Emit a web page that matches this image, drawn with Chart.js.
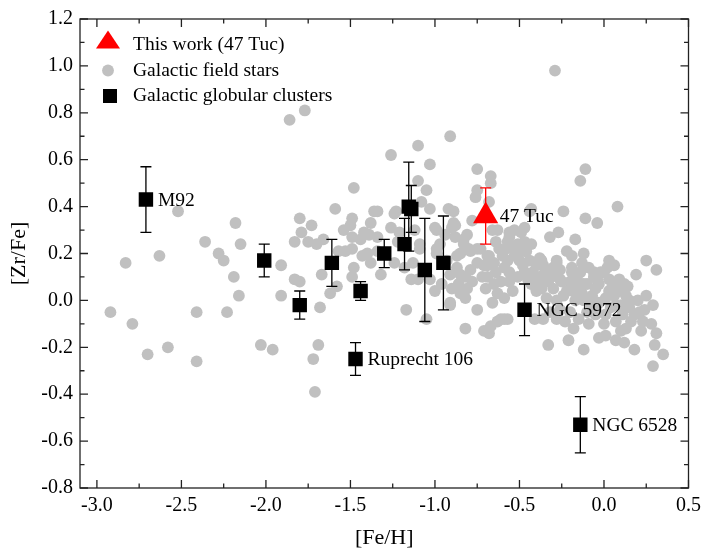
<!DOCTYPE html>
<html>
<head>
<meta charset="utf-8">
<script src="https://cdn.jsdelivr.net/npm/chart.js@4.4.1/dist/chart.umd.min.js"></script>
<style>
  html, body { margin: 0; padding: 0; background: #fff; }
  #wrap { width: 707px; height: 551px; }
</style>
</head>
<body>
<div id="wrap"><canvas id="chart1" width="707" height="551"></canvas></div>
<script>
// axis ticks
var xTicks = [-3.0, -2.5, -2.0, -1.5, -1.0, -0.5, 0.0, 0.5];
var xMinor = [-2.75, -2.25, -1.75, -1.25, -0.75, -0.25, 0.25];
var yTicks = [-0.8, -0.6, -0.4, -0.2, 0.0, 0.2, 0.4, 0.6, 0.8, 1.0, 1.2];
var yMinor = [-0.7, -0.5, -0.3, -0.1, 0.1, 0.3, 0.5, 0.7, 0.9, 1.1];

// Galactic field stars
var fieldFeH = [
  -2.92, -2.83, -2.79, -2.70, -2.63, -2.58, -2.52, -2.41, -2.41, -2.36, -2.28, -2.25,
  -2.23, -2.19, -2.18, -2.16, -2.15, -2.03, -1.96, -1.91, -1.91, -1.86, -1.83, -1.83,
  -1.80, -1.80, -1.79, -1.77, -1.75, -1.73, -1.72, -1.71, -1.70, -1.69, -1.68, -1.67,
  -1.66, -1.62, -1.59, -1.58, -1.57, -1.54, -1.53, -1.50, -1.49, -1.49, -1.49, -1.49,
  -1.48, -1.48, -1.44, -1.43, -1.42, -1.40, -1.39, -1.38, -1.38, -1.36, -1.34, -1.34,
  -1.34, -1.32, -1.26, -1.26, -1.24, -1.24, -1.23, -1.22, -1.21, -1.18, -1.17, -1.14,
  -1.13, -1.12, -1.10, -1.10, -1.10, -1.09, -1.09, -1.08, -1.05, -1.05, -1.03, -1.03,
  -1.03, -1.00, -1.00, -0.99, -0.99, -0.99, -0.97, -0.96, -0.92, -0.91, -0.91, -0.91,
  -0.90, -0.90, -0.89, -0.89, -0.88, -0.88, -0.87, -0.87, -0.85, -0.85, -0.85, -0.83,
  -0.83, -0.82, -0.82, -0.82, -0.81, -0.81, -0.80, -0.79, -0.78, -0.76, -0.75, -0.75,
  -0.75, -0.75, -0.75, -0.73, -0.71, -0.71, -0.70, -0.69, -0.69, -0.69, -0.68, -0.68,
  -0.68, -0.67, -0.67, -0.67, -0.66, -0.66, -0.66, -0.65, -0.65, -0.64, -0.64, -0.63,
  -0.63, -0.63, -0.61, -0.60, -0.59, -0.59, -0.59, -0.57, -0.57, -0.57, -0.56, -0.56,
  -0.56, -0.56, -0.54, -0.53, -0.53, -0.53, -0.51, -0.51, -0.49, -0.47, -0.47, -0.47,
  -0.47, -0.46, -0.46, -0.44, -0.44, -0.43, -0.43, -0.43, -0.42, -0.41, -0.40, -0.40,
  -0.40, -0.39, -0.38, -0.38, -0.37, -0.36, -0.36, -0.34, -0.34, -0.33, -0.33, -0.32,
  -0.32, -0.30, -0.29, -0.28, -0.28, -0.28, -0.28, -0.28, -0.27, -0.26, -0.25, -0.24,
  -0.23, -0.22, -0.22, -0.21, -0.19, -0.19, -0.19, -0.18, -0.17, -0.17, -0.16, -0.16,
  -0.15, -0.14, -0.13, -0.12, -0.12, -0.12, -0.12, -0.11, -0.11, -0.10, -0.09, -0.07,
  -0.06, -0.06, -0.06, -0.05, -0.05, -0.04, -0.03, -0.03, -0.03, -0.02, 0.00, 0.00,
  0.01, 0.01, 0.01, 0.03, 0.03, 0.03, 0.05, 0.06, 0.07, 0.07, 0.07, 0.07,
  0.08, 0.09, 0.11, 0.12, 0.12, 0.13, 0.14, 0.15, 0.15, 0.18, 0.18, 0.19,
  0.21, 0.23, 0.25, 0.25, 0.28, 0.29, 0.29, 0.30, 0.31, 0.31, 0.35, -0.91,
  -0.61, -0.62, -0.58, -0.50, -0.48, -0.45, -0.37, -0.35, -0.31, -0.30, -0.26, -0.24,
  -0.20, -0.18, -0.14, -0.13, -0.09, -0.08, -0.04, 0.02, 0.04, 0.06, 0.09, 0.10,
  0.13, 0.16, 0.20, 0.22, 0.24, 0.10, -0.26, -0.20, -0.10, -0.72, -0.78, -0.86,
  -0.79, -0.93, -0.94
];
var fieldZrFe = [
  -0.05, 0.16, -0.10, -0.23, 0.19, -0.20, 0.38, -0.05, -0.26, 0.25, 0.20, 0.17,
  -0.05, 0.10, 0.33, 0.02, 0.24, -0.19, -0.21, 0.15, 0.02, 0.77, 0.25, 0.09,
  0.08, 0.35, 0.29, 0.81, 0.25, 0.32, -0.25, -0.39, 0.24, -0.19, -0.03, 0.11,
  0.26, 0.03, 0.39, 0.06, 0.21, 0.30, 0.21, 0.32, 0.35, 0.27, 0.22, 0.10,
  0.48, 0.14, 0.26, 0.19, 0.29, 0.20, 0.28, 0.33, 0.16, 0.38, 0.27, 0.21,
  0.38, 0.11, 0.62, 0.31, 0.37, 0.16, 0.38, 0.25, 0.29, 0.14, -0.04, 0.09,
  0.16, 0.30, 0.66, 0.51, 0.09, 0.24, 0.22, 0.42, 0.47, -0.08, 0.58, 0.39,
  0.09, 0.31, 0.04, 0.30, 0.22, 0.20, 0.24, 0.07, 0.39, 0.70, 0.11, -0.01,
  0.31, 0.05, 0.38, 0.33, 0.32, 0.27, 0.19, 0.14, 0.20, 0.11, 0.03, 0.26,
  0.24, 0.10, 0.01, -0.12, 0.28, 0.05, 0.22, 0.21, 0.34, 0.44, 0.56, 0.47,
  0.22, 0.16, -0.04, 0.22, 0.15, -0.13, 0.05, 0.19, 0.15, 0.10, 0.42, 0.19,
  -0.14, 0.53, 0.50, -0.11, 0.30, 0.16, -0.01, 0.16, 0.07, 0.25, 0.12, 0.30,
  0.03, -0.09, 0.08, 0.19, 0.14, 0.01, -0.08, 0.25, 0.17, -0.08, 0.29, 0.27,
  0.12, 0.08, 0.04, 0.30, 0.22, 0.19, 0.24, 0.10, 0.29, 0.31, 0.25, 0.21,
  0.12, 0.24, 0.21, 0.38, 0.17, 0.39, 0.24, 0.07, 0.12, -0.08, 0.15, 0.05,
  0.04, 0.09, 0.18, 0.10, 0.17, 0.15, -0.08, 0.08, 0.01, 0.08, -0.19, 0.27,
  -0.05, 0.05, 0.98, 0.17, 0.16, 0.12, 0.00, -0.08, 0.29, 0.09, 0.08, 0.38,
  -0.09, 0.21, 0.04, -0.17, 0.19, 0.14, 0.12, -0.12, 0.26, 0.00, 0.09, 0.07,
  -0.08, 0.51, 0.16, 0.20, 0.07, 0.00, -0.21, 0.56, 0.35, 0.07, -0.10, 0.02,
  0.12, 0.10, -0.04, 0.05, -0.06, 0.33, 0.07, -0.01, -0.16, 0.12, 0.12, -0.10,
  0.01, -0.06, -0.15, 0.17, 0.09, 0.04, 0.06, 0.15, 0.07, -0.02, -0.09, -0.17,
  0.40, 0.09, -0.06, 0.07, -0.18, -0.12, 0.06, 0.00, -0.03, -0.06, -0.21, 0.11,
  -0.05, -0.09, 0.17, 0.02, -0.10, -0.02, -0.28, -0.19, 0.13, -0.14, -0.23, -0.02,
  -0.08, 0.22, 0.22, 0.17, 0.15, 0.09, 0.05, 0.12, 0.10, 0.14, 0.13, 0.02,
  0.08, 0.04, 0.12, 0.03, 0.14, -0.02, 0.09, 0.14, -0.03, 0.02, 0.04, -0.02,
  0.02, -0.09, 0.00, -0.13, -0.04, -0.13, -0.04, -0.05, -0.05, 0.10, 0.08, 0.07,
  0.13, 0.17, 0.28
];

// Galactic globular clusters
var clusterNames = ['M92', '', '', '', 'Ruprecht 106', '', '', '', '', '', '', '', 'NGC 5972', 'NGC 6528'];
var clusterFeH  = [-2.71, -2.01, -1.80, -1.61, -1.47, -1.44, -1.30, -1.18, -1.155, -1.14, -1.06, -0.95, -0.47, -0.14];
var clusterZrFe = [ 0.43,  0.17, -0.02,  0.16, -0.25,  0.04,  0.20,  0.24,  0.40,   0.39,  0.13,  0.16, -0.04, -0.53];
var clusterErr  = [ 0.14,  0.07,  0.06,  0.10,  0.07,  0.04,  0.06,  0.11,  0.19,   0.10,  0.22,  0.20,  0.11,  0.12];

// This work
var tucName = ['47 Tuc'];
var tucFeH = [-0.70];
var tucZrFe = [0.36];
var tucErr = [0.12];

var serif = 'Liberation Serif, Times New Roman, serif';

function toPoints(xs, ys) {
    var pts = [];
    for (var i = 0; i < xs.length; i++) {
        pts.push({ x: xs[i], y: ys[i] });
    }
    return pts;
}

// frame with inward ticks on all four sides
var frameTicks = {
    id: 'frameTicks',
    afterDatasetsDraw: function(chart) {
        var c = chart.ctx, a = chart.chartArea;
        var sx = chart.scales.x, sy = chart.scales.y;
        c.save();
        c.strokeStyle = '#222';
        c.lineWidth = 1.3;
        c.strokeRect(a.left, a.top, a.right - a.left, a.bottom - a.top);
        c.beginPath();
        function xt(list, len) {
            list.forEach(function(v) {
                var p = sx.getPixelForValue(v);
                c.moveTo(p, a.bottom); c.lineTo(p, a.bottom - len);
                c.moveTo(p, a.top); c.lineTo(p, a.top + len);
            });
        }
        function yt(list, len) {
            list.forEach(function(v) {
                var p = sy.getPixelForValue(v);
                c.moveTo(a.left, p); c.lineTo(a.left + len, p);
                c.moveTo(a.right, p); c.lineTo(a.right - len, p);
            });
        }
        xt(xTicks, 8); xt(xMinor, 4.5);
        yt(yTicks, 8); yt(yMinor, 4.5);
        c.stroke();
        c.restore();
    }
};

function drawBars(chart, xs, ys, errs, color) {
    var c = chart.ctx, sx = chart.scales.x, sy = chart.scales.y;
    c.save();
    c.strokeStyle = color;
    c.lineWidth = 1.3;
    c.beginPath();
    for (var i = 0; i < xs.length; i++) {
        var px = sx.getPixelForValue(xs[i]);
        var top = sy.getPixelForValue(ys[i] + errs[i]);
        var bot = sy.getPixelForValue(ys[i] - errs[i]);
        c.moveTo(px, top); c.lineTo(px, bot);
        c.moveTo(px - 5.5, top); c.lineTo(px + 5.5, top);
        c.moveTo(px - 5.5, bot); c.lineTo(px + 5.5, bot);
    }
    c.stroke();
    c.restore();
}

// error bars go over the field stars but under the markers
var errorBars = {
    id: 'errorBars',
    afterDatasetDraw: function(chart, args) {
        if (args.index !== 2) return;
        drawBars(chart, clusterFeH, clusterZrFe, clusterErr, '#000');
        drawBars(chart, tucFeH, tucZrFe, tucErr, '#ff0000');
    }
};

var pointLabels = {
    id: 'pointLabels',
    afterDatasetsDraw: function(chart) {
        var c = chart.ctx, sx = chart.scales.x, sy = chart.scales.y;
        c.save();
        c.fillStyle = '#000';
        c.font = '19.5px ' + serif;
        c.textBaseline = 'middle';
        c.textAlign = 'left';
        for (var i = 0; i < clusterNames.length; i++) {
            if (!clusterNames[i]) continue;
            c.fillText(clusterNames[i], sx.getPixelForValue(clusterFeH[i]) + 12, sy.getPixelForValue(clusterZrFe[i]) + 1);
        }
        c.fillText(tucName[0], sx.getPixelForValue(tucFeH[0]) + 14, sy.getPixelForValue(tucZrFe[0]) + 1);
        c.restore();
    }
};

var insideLegend = {
    id: 'insideLegend',
    afterDraw: function(chart) {
        var c = chart.ctx, a = chart.chartArea;
        var mx = a.left + 28, tx = a.left + 53;
        var r1 = a.top + 26, r2 = a.top + 51.5, r3 = a.top + 77;
        c.save();
        // triangle
        c.fillStyle = '#ff0000';
        c.beginPath();
        c.moveTo(mx, r1 - 14.5);
        c.lineTo(mx + 12, r1 + 3.5);
        c.lineTo(mx - 12, r1 + 3.5);
        c.closePath();
        c.fill();
        // circle
        c.fillStyle = '#c0c0c0';
        c.beginPath();
        c.arc(mx, r2, 5.9, 0, Math.PI * 2);
        c.fill();
        // square
        c.fillStyle = '#000';
        c.fillRect(mx + 2 - 7, r3 - 7, 14, 14);
        c.font = '19.5px ' + serif;
        c.textBaseline = 'middle';
        c.fillText('This work (47 Tuc)', tx, r1);
        c.fillText('Galactic field stars', tx, r2);
        c.fillText('Galactic globular clusters', tx, r3);
        c.restore();
    }
};

function makeChart() {
    var ctx = document.getElementById('chart1').getContext('2d');
    var chart1 = new Chart(ctx, {
        type: 'scatter',
        data: {
            datasets: [{
                label: 'This work (47 Tuc)',
                data: toPoints(tucFeH, tucZrFe),
                pointStyle: 'triangle',
                pointRadius: 14.5,
                backgroundColor: '#ff0000',
                borderWidth: 0,
                order: 1
            }, {
                label: 'Galactic globular clusters',
                data: toPoints(clusterFeH, clusterZrFe),
                pointStyle: 'rect',
                pointRadius: 10.2,
                backgroundColor: '#000',
                borderWidth: 0,
                order: 2
            }, {
                label: 'Galactic field stars',
                data: toPoints(fieldFeH, fieldZrFe),
                pointStyle: 'circle',
                pointRadius: 5.9,
                backgroundColor: '#c0c0c0',
                borderWidth: 0,
                order: 3
            }]
        },
        options: {
            responsive: false,
            animation: false,
            layout: { padding: { left: 0, top: 15, right: 14, bottom: 0 } },
            plugins: {
                legend: { display: false },
                tooltip: { enabled: false }
            },
            scales: {
                x: {
                    type: 'linear',
                    position: 'bottom',
                    min: -3.1,
                    max: 0.5,
                    afterBuildTicks: function(s) { s.ticks = xTicks.map(function(v) { return { value: v }; }); },
                    afterFit: function(s) { s.height = 63; },
                    grid: { display: false, drawTicks: false },
                    border: { display: false },
                    ticks: {
                        padding: 6,
                        color: '#000',
                        maxRotation: 0,
                        autoSkip: false,
                        font: { family: serif, size: 20 },
                        callback: function(v) { return v.toFixed(1); }
                    },
                    title: {
                        display: true,
                        text: '[Fe/H]',
                        color: '#000',
                        font: { family: serif, size: 22 },
                        padding: { top: 2, bottom: 0 }
                    }
                },
                y: {
                    type: 'linear',
                    min: -0.8,
                    max: 1.2,
                    afterBuildTicks: function(s) { s.ticks = yTicks.map(function(v) { return { value: v }; }); },
                    afterFit: function(s) { s.width = 80; },
                    grid: { display: false, drawTicks: false },
                    border: { display: false },
                    ticks: {
                        padding: 7,
                        color: '#000',
                        font: { family: serif, size: 20 },
                        callback: function(v) { return v.toFixed(1); }
                    },
                    title: {
                        display: true,
                        text: '[Zr/Fe]',
                        color: '#000',
                        font: { family: serif, size: 22 },
                        padding: { top: 6, bottom: 0 }
                    }
                }
            }
        },
        plugins: [errorBars, frameTicks, pointLabels, insideLegend]
    });
}

window.onload = function() {
    makeChart();
};
</script>
</body>
</html>
